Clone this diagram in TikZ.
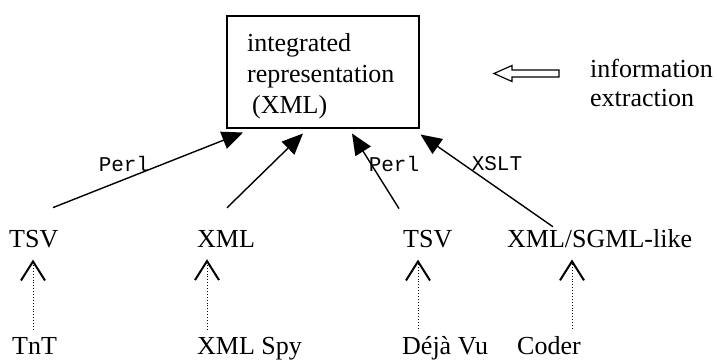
\documentclass[tikz,border=0pt]{standalone}
\usepackage{fontspec}
\setmainfont{Liberation Serif}
\setmonofont{Liberation Mono}
\usetikzlibrary{arrows.meta,calc}
\begin{document}
\begin{tikzpicture}[x=1pt,y=-1pt,
  txt/.style={inner sep=0pt,anchor=base west,font=\fontsize{26}{31}\selectfont},
  lbl/.style={inner sep=0pt,font=\ttfamily\fontsize{21}{24}\selectfont},
  conv/.style={line width=1.4pt,-{Triangle[length=21pt,width=18pt]}},
  tool/.style={line width=0.9pt,dotted,-{Straight Barb[length=19pt,width=24pt,line width=2pt]}}]
\useasboundingbox (0,0) rectangle (718,360);
% central box
\node[draw,line width=1.5pt,minimum width=192pt,minimum height=112pt,anchor=north west,inner sep=0pt] (box) at (226,15) {};
\node[inner sep=0pt,anchor=north west,align=left,font=\fontsize{26}{31}\selectfont] (boxtext) at (247,33)
  {integrated\\representation\\\hspace*{5pt}(XML)};
% hollow arrow
\draw[line width=1.2pt,line join=miter] (494,73.5) -- (512,65.5) -- (512,70) -- (559,70) -- (559,77) -- (512,77) -- (512,81.5) -- cycle;
\node[inner sep=0pt,anchor=north west,align=left,font=\fontsize{26}{29}\selectfont] (ie) at (590,59)
  {information\\extraction};
% formats
\node[txt] (tsv1) at (9,247) {TSV};
\node[txt] (xml) at (197,247) {XML};
\node[txt] (tsv2) at (403,247) {TSV};
\node[txt] (xsgml) at (507,247) {XML/SGML-like};
% tools
\node[txt] (tnt) at (12,354) {TnT};
\node[txt] (spy) at (197,354) {XML Spy};
\node[txt] (deja) at (402,354) {Déjà Vu};
\node[txt] (coder) at (517,354) {Coder};
% conversion arrows
\coordinate (s1) at ($(tsv1.north west)+(44,-22)$);
\coordinate (s2) at ($(xml.north west)+(30,-22)$);
\coordinate (s3) at ($(tsv2.north west)+(-4,-21)$);
\coordinate (s4) at ($(xsgml.north west)+(46,-2)$);
\coordinate (t1) at ($(box.south west)+(17,4)$);
\coordinate (t2) at ($(box.south west)+(77,5)$);
\coordinate (t3) at ($(box.south west)+(126,5)$);
\coordinate (t4) at ($(box.south east)+(1,6)$);
\draw[conv] (s1) -- (t1);
\draw[conv] (s2) -- (t2);
\draw[conv] (s3) -- (t3);
\draw[conv] (s4) -- (t4);
\node[lbl] (perl1) at (124,164) {Perl};
\node[lbl] (perl2) at (394,164) {Perl};
\node[lbl] (xslt) at (497,164) {XSLT};
% tool arrows
\draw[tool] ($(tnt.north west)+(21,-7)$) -- ($(tsv1.south west)+(24,12)$);
\draw[tool] ($(spy.north west)+(10,-7)$) -- ($(xml.south west)+(10,12)$);
\draw[tool] ($(deja.north west)+(16,-7)$) -- ($(tsv2.south west)+(15,12)$);
\draw[tool] ($(coder.north west)+(55,-7)$) -- ($(xsgml.south west)+(65,12)$);
\end{tikzpicture}
\end{document}
